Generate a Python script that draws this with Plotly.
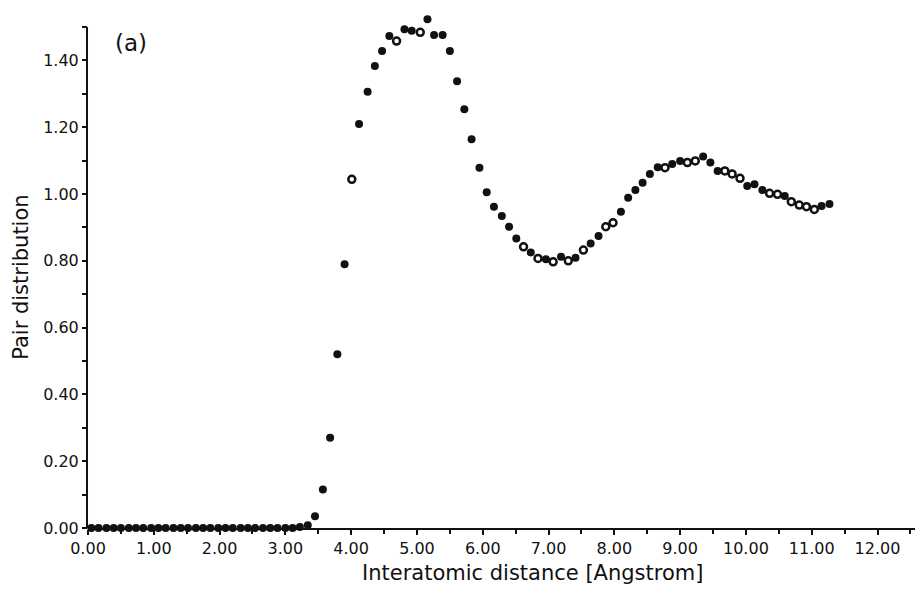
import plotly.graph_objects as go

# Filled markers
filled_x = [0.05, 0.16, 0.28, 0.39, 0.50, 0.62, 0.73, 0.84, 0.96, 1.07, 1.18, 1.30, 1.41, 1.52,
            1.64, 1.75, 1.86, 1.98, 2.09, 2.20, 2.32, 2.43, 2.54, 2.66, 2.77, 2.88, 3.00, 3.11,
            3.22, 3.34, 3.45, 3.57, 3.68, 3.79, 3.90, 4.12, 4.25, 4.36, 4.47, 4.58, 4.81,
            4.92, 5.16, 5.26, 5.39, 5.50, 5.61, 5.72, 5.83, 5.95, 6.06, 6.17, 6.29, 6.40, 6.51,
            6.73, 6.96, 7.19, 7.41, 7.64, 7.76, 8.10, 8.21, 8.32, 8.43, 8.54, 8.66, 8.88, 9.00,
            9.35, 9.46, 9.57, 10.02, 10.13, 10.25, 10.59, 11.15, 11.27]
filled_y = [0.0, 0.0, 0.0, 0.0, 0.0, 0.0, 0.0, 0.0, 0.0, 0.0, 0.0, 0.0, 0.0, 0.0,
            0.0, 0.0, 0.0, 0.0, 0.0, 0.0, 0.0, 0.0, 0.0, 0.0, 0.0, 0.0, 0.0, 0.0,
            0.003, 0.008, 0.035, 0.115, 0.27, 0.52, 0.79, 1.21, 1.306, 1.383, 1.428, 1.473, 1.493,
            1.489, 1.523, 1.476, 1.476, 1.428, 1.338, 1.254, 1.164, 1.079, 1.005, 0.962, 0.934, 0.902, 0.867,
            0.825, 0.805, 0.812, 0.809, 0.852, 0.874, 0.947, 0.989, 1.012, 1.034, 1.060, 1.080, 1.090, 1.099,
            1.112, 1.094, 1.069, 1.024, 1.029, 1.012, 0.994, 0.964, 0.970]

# Open markers
open_x = [4.01, 4.69, 5.05, 6.62, 6.84, 7.07, 7.30, 7.53, 7.87, 7.98, 8.77, 9.11, 9.23,
          9.68, 9.79, 9.91, 10.36, 10.48, 10.69, 10.81, 10.92, 11.04]
open_y = [1.044, 1.458, 1.484, 0.842, 0.807, 0.797, 0.800, 0.832, 0.902, 0.914, 1.079, 1.094, 1.099,
          1.069, 1.060, 1.047, 1.002, 0.999, 0.977, 0.967, 0.962, 0.954]

x_ticks = [0, 1, 2, 3, 4, 5, 6, 7, 8, 9, 10, 11, 12]
x_labels = ["0.00", "1.00", "2.00", "3.00", "4.00", "5.00", "6.00", "7.00", "8.00", "9.00",
            "10.00", "11.00", "12.00"]
y_ticks = [0.0, 0.2, 0.4, 0.6, 0.8, 1.0, 1.2, 1.4]
y_labels = ["0.00", "0.20", "0.40", "0.60", "0.80", "1.00", "1.20", "1.40"]
y_minor = [0.1, 0.3, 0.5, 0.7, 0.9, 1.1, 1.3, 1.5]
y_axis_top = 1.5

ink = "#111111"
font_family = "DejaVu Sans"

fig = go.Figure()
fig.add_trace(go.Scatter(x=filled_x, y=filled_y, mode="markers",
                         marker=dict(symbol="circle", size=8, color=ink, line=dict(width=0)),
                         showlegend=False, cliponaxis=False))
fig.add_trace(go.Scatter(x=open_x, y=open_y, mode="markers",
                         marker=dict(symbol="circle", size=7, color="white", line=dict(width=2.5, color=ink)),
                         showlegend=False, cliponaxis=False))

fig.update_layout(
    width=917, height=589,
    margin=dict(l=88, r=2, t=17, b=61),
    paper_bgcolor="white", plot_bgcolor="white",
    font=dict(family=font_family, size=16, color=ink),
    xaxis=dict(range=[0, 12.57], showgrid=False, zeroline=False, showline=True,
               linecolor=ink, linewidth=2, ticks="outside", ticklen=5, tickwidth=1.5,
               tickcolor=ink, tickmode="array", tickvals=x_ticks, ticktext=x_labels,
               minor=dict(tickmode="linear", tick0=0, dtick=0.5, ticks="outside", ticklen=4,
                          tickcolor=ink, tickwidth=1.5),
               tickfont=dict(size=16), fixedrange=True),
    yaxis=dict(range=[0, 1.53], showgrid=False, zeroline=False, showline=False,
               ticks="outside", ticklen=5, tickwidth=1.5,
               tickcolor=ink, tickmode="array", tickvals=y_ticks, ticktext=y_labels,
               minor=dict(tickmode="array", tickvals=y_minor, ticks="outside", ticklen=5,
                          tickcolor=ink, tickwidth=1.5),
               tickfont=dict(size=16), fixedrange=True),
    shapes=[dict(type="line", xref="paper", yref="y", x0=-0.0012, x1=-0.0012, y0=0, y1=y_axis_top,
                 line=dict(color=ink, width=2), layer="above")],
    annotations=[
        dict(text="Interatomic distance [Angstrom]", xref="paper", yref="paper",
             x=0.537, y=-0.088, xanchor="center", yanchor="middle", showarrow=False,
             font=dict(size=21, family=font_family, color=ink)),
        dict(text="Pair distribution", xref="paper", yref="paper",
             x=-0.082, y=0.49, xanchor="center", yanchor="middle", showarrow=False,
             textangle=-90, font=dict(size=21, family=font_family, color=ink)),
        dict(text="(a)", xref="paper", yref="paper", x=0.052, y=0.95,
             xanchor="center", yanchor="middle", showarrow=False,
             font=dict(size=23, family=font_family, color=ink)),
    ],
)

fig.write_html("out.html")
